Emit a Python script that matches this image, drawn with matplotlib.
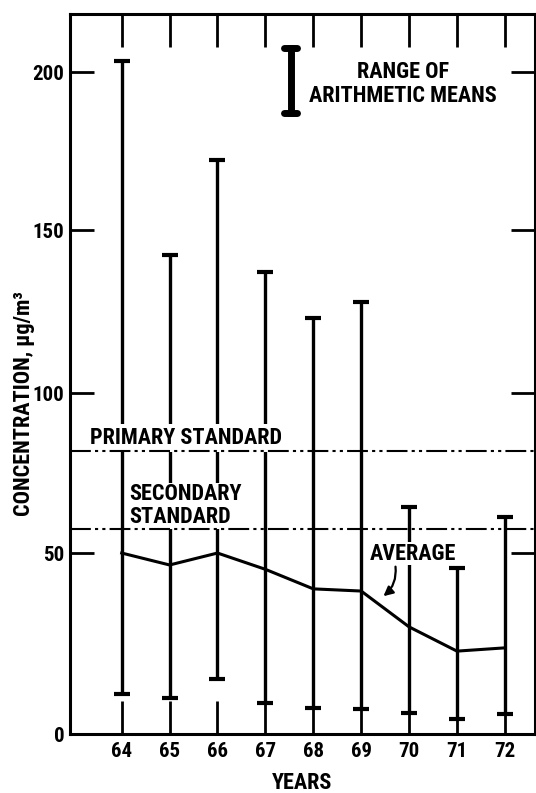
import matplotlib
matplotlib.use("Agg")
import matplotlib.pyplot as plt
import numpy as np
from matplotlib.lines import Line2D

years = [64, 65, 66, 67, 68, 69, 70, 71, 72]
range_high = [203.5, 142.3, 172.2, 137.1, 123.0, 128.0, 64.4, 46.0, 61.2]
range_low = [11.0, 10.0, 15.2, 8.6, 7.2, 6.9, 5.8, 4.1, 5.5]
average = [50.0, 46.7, 50.0, 45.5, 40.1, 39.5, 29.6, 22.9, 23.8]
primary_standard = 82.0
secondary_standard = 57.5
yticks = [0, 50, 100, 150, 200]

# the scanned original's axis is slightly uneven between ticks
scale_vals = [-50, 0, 50, 100, 150, 200, 250]
scale_pos = [-181, 0, 181, 341, 504, 662, 820]

def fwd(v):
    return np.interp(v, scale_vals, scale_pos)

def inv(p):
    return np.interp(p, scale_pos, scale_vals)

FONT = ['Roboto Condensed', 'DejaVu Sans']
plt.rcParams['font.family'] = FONT
plt.rcParams['font.weight'] = 'bold'
FS = 16
TFS = 15

fig = plt.figure(figsize=(5.36, 7.93), dpi=100)
ax = fig.add_axes([70/536, 1-734/793, 465/536, 720/793])
ax.set_yscale('function', functions=(fwd, inv))

lo = np.array(average) - np.array(range_low)
hi = np.array(range_high) - np.array(average)
ax.errorbar(years, average, yerr=[lo, hi], fmt='none', ecolor='black',
            elinewidth=2.4, capsize=6, capthick=3, zorder=2)
ax.plot(years, average, color='black', lw=2.2, zorder=2)

ls = (0, (10, 2, 1.5, 2, 1.5, 2))
ax.axhline(primary_standard, color='black', lw=1.5, linestyle=ls, zorder=5)
ax.axhline(secondary_standard, color='black', lw=1.5, linestyle=ls, zorder=5)

ax.set_xlim(62.92, 72.63)
ax.set_ylim(0, 218.4)
ax.set_xticks(years)
ax.set_xticklabels([str(y) for y in years])
ax.set_yticks(yticks)
ax.set_yticklabels([str(v) for v in yticks])
ax.yaxis.set_minor_locator(matplotlib.ticker.NullLocator())

for s in ax.spines.values():
    s.set_linewidth(2.2)
    s.set_zorder(6)
ax.tick_params(axis='x', direction='in', length=24, width=2, top=True,
               labelsize=TFS, pad=6)
ax.tick_params(axis='y', direction='in', length=17, width=2, right=True,
               labelsize=TFS, pad=4)

ax.set_xlabel('YEARS', fontsize=FS, fontweight='bold', labelpad=8)
fig.text(24/536, 1-404/793, 'CONCENTRATION, µg/m³', rotation=90,
         ha='center', va='center', fontsize=FS, fontweight='bold')

# legend symbol
ax.add_line(Line2D([0.475, 0.475], [0.862, 0.953], transform=ax.transAxes,
                   color='black', lw=5))
for yy in [0.862, 0.953]:
    ax.add_line(Line2D([0.461, 0.489], [yy, yy], transform=ax.transAxes,
                       color='black', lw=5, solid_capstyle='round'))
ax.text(0.716, 0.903, 'RANGE OF\nARITHMETIC MEANS', transform=ax.transAxes,
        ha='center', va='center', fontsize=FS, fontweight='bold', linespacing=1.1)

box = dict(boxstyle='square,pad=0.15', facecolor='white', edgecolor='none')
tight_box = dict(boxstyle='square,pad=0.02', facecolor='white', edgecolor='none')
ax.text(63.34, 84.1, 'PRIMARY STANDARD', ha='left', va='baseline',
        fontsize=FS, fontweight='bold', bbox=box, zorder=4)
ax.text(64.15, 59.3, 'SECONDARY\nSTANDARD', ha='left', va='baseline',
        fontsize=FS, fontweight='bold', linespacing=1.05, bbox=tight_box, zorder=4)
ax.text(69.17, 48.1, 'AVERAGE', ha='left', va='baseline',
        fontsize=FS, fontweight='bold', bbox=tight_box, zorder=4)
ax.annotate('', xy=(69.42, 37.6), xytext=(69.71, 47.0),
            arrowprops=dict(arrowstyle='-|>', color='black', lw=1.6,
                            mutation_scale=14,
                            connectionstyle='arc3,rad=-0.3'), zorder=4)

fig.savefig('out.png', dpi=100)
